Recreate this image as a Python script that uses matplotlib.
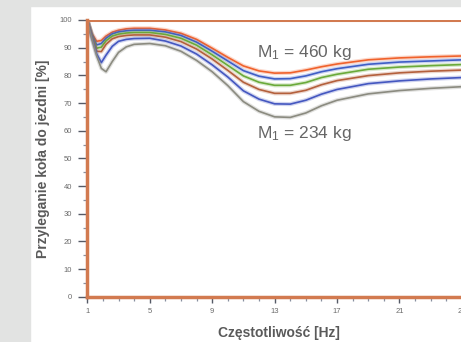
import matplotlib
matplotlib.use("Agg")
import matplotlib.pyplot as plt
import matplotlib.patheffects as pe
from matplotlib.patches import Rectangle
from matplotlib.ticker import MultipleLocator, FixedLocator

plt.rcParams["font.family"] = ["Liberation Sans", "DejaVu Sans"]
plt.rcParams["mathtext.default"] = "regular"

# frequency grid [Hz] shared by all curves
freq = [1, 1.3, 1.6, 1.9, 2.2, 2.6, 3, 3.5, 4, 5, 6, 7, 8, 9, 10,
        11, 12, 13, 14, 15, 16, 17, 19, 21, 23, 25]

# wheel-road adhesion [%], from M1 = 460 kg (top) down to M1 = 234 kg (bottom)
adh_460 = [100, 95.0, 92.3, 92.6, 94.2, 95.6, 96.3, 96.8, 97.0, 97.0, 96.4, 95.2, 93.0,
           89.8, 86.5, 83.4, 81.6, 80.8, 80.9, 81.9, 83.1, 84.1, 85.6, 86.3, 86.7, 87.0]
adh_b1 = [100, 94.6, 91.0, 91.5, 93.4, 95.0, 95.7, 96.1, 96.3, 96.3, 95.7, 94.4, 92.0,
          88.7, 85.2, 81.7, 79.7, 78.7, 78.8, 79.8, 81.3, 82.4, 84.0, 84.8, 85.2, 85.6]
adh_g = [100, 94.3, 89.8, 90.2, 92.5, 94.2, 94.9, 95.3, 95.5, 95.5, 94.8, 93.4, 90.9,
         87.4, 83.6, 79.8, 77.5, 76.4, 76.4, 77.4, 79.2, 80.4, 82.2, 83.0, 83.5, 83.9]
adh_br = [100, 94.0, 88.7, 88.6, 91.2, 93.2, 94.0, 94.4, 94.6, 94.6, 93.8, 92.2, 89.5,
          85.9, 81.8, 77.5, 74.9, 73.5, 73.5, 74.6, 76.6, 78.1, 79.9, 80.9, 81.5, 81.9]
adh_b2 = [100, 93.5, 87.8, 84.6, 87.3, 90.5, 92.3, 93.0, 93.3, 93.4, 92.4, 90.6, 87.7,
          83.8, 79.4, 74.4, 71.4, 69.7, 69.6, 71.0, 73.2, 74.9, 77.0, 78.0, 78.7, 79.2]
adh_234 = [100, 93.0, 87.0, 82.5, 81.3, 85.0, 88.3, 90.3, 91.2, 91.5, 90.7, 88.7, 85.4,
           81.3, 76.3, 70.5, 67.0, 65.0, 64.8, 66.4, 69.0, 71.0, 73.3, 74.5, 75.3, 75.9]

series = [adh_460, adh_b1, adh_g, adh_br, adh_b2, adh_234]
colors = ["#f0622c", "#3f5ec6", "#6aaa3a", "#b4603c", "#4457c0", "#8b8b80"]

x_ticks = [1, 5, 9, 13, 17, 21, 25]
y_ticks = [0, 10, 20, 30, 40, 50, 60, 70, 80, 90, 100]

frame = "#d27a50"
tick_col = "#555a66"

fig = plt.figure(figsize=(4.61, 3.42), dpi=100)
fig.patch.set_facecolor("white")
fig.patches.append(Rectangle((0, 0), 30 / 461, 1, transform=fig.transFigure,
                             color="#e2e3e2", zorder=0))
fig.patches.append(Rectangle((0, 1 - 6 / 342), 1, 6 / 342, transform=fig.transFigure,
                             color="#e2e3e2", zorder=0))

ax = fig.add_axes([87.3 / 461, 1 - 296.7 / 342, 384 / 461, 276.7 / 342])
ax.set_xlim(1, 25.6)
ax.set_ylim(0, 100)

for y, c in zip(series, colors):
    ax.plot(freq, y, color=c, lw=1.2, solid_capstyle="round",
            path_effects=[pe.Stroke(linewidth=3.0, foreground=c, alpha=0.25), pe.Normal()])

ax.axhline(100, color=frame, lw=2.2, zorder=5)
for s in ["top", "right"]:
    ax.spines[s].set_visible(False)
for s in ["left", "bottom"]:
    ax.spines[s].set_color(frame)
    ax.spines[s].set_linewidth(2.5)
    ax.spines[s].set_zorder(6)

ax.xaxis.set_major_locator(FixedLocator(x_ticks))
ax.xaxis.set_minor_locator(MultipleLocator(1))
ax.yaxis.set_major_locator(FixedLocator(y_ticks))
ax.yaxis.set_minor_locator(MultipleLocator(5))
ax.tick_params(axis="both", which="major", direction="out", color=tick_col,
               labelcolor="#6a6a6a", labelsize=5.5, width=1.0)
ax.tick_params(axis="y", which="major", length=6.5, pad=4.5)
ax.tick_params(axis="x", which="major", length=4.5, pad=3.5)
ax.tick_params(axis="both", which="minor", direction="out", color="#8890a0",
               length=3, width=0.9)

ax.text(11.88, 88.1, "M$_1$ = 460 kg", fontsize=12.5, color="#666666",
        ha="left", va="center")
ax.text(11.88, 59.1, "M$_1$ = 234 kg", fontsize=12.5, color="#666666",
        ha="left", va="center")

ax.set_xlabel("Częstotliwość [Hz]", fontsize=10, fontweight="bold", color="#5a5a5a",
              labelpad=8)
ax.set_ylabel("Przyleganie koła do jezdni [%]", fontsize=10, fontweight="bold",
              color="#5a5a5a", labelpad=7)

fig.savefig("out.png", dpi=100)
